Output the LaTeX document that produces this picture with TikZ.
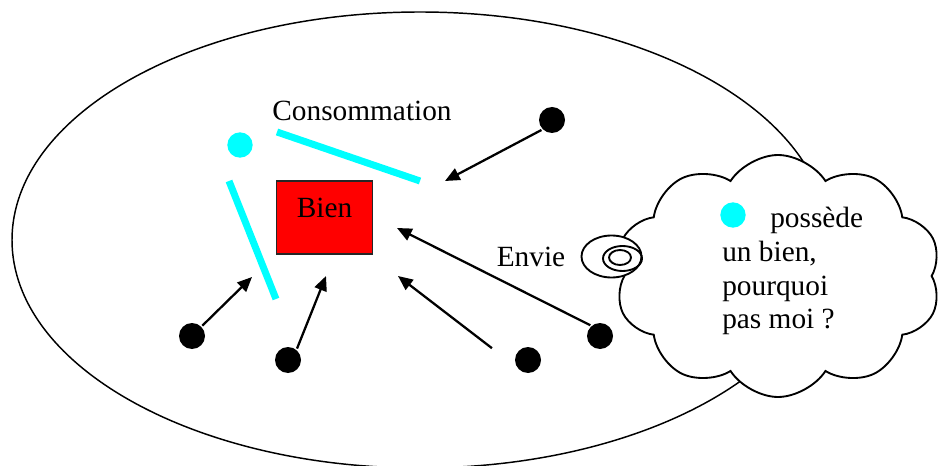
\documentclass[tikz,border=0pt]{standalone}
\usepackage{fontspec}
\setmainfont{Liberation Serif}
\usepackage{xcolor}
\usetikzlibrary{arrows.meta,positioning,shapes.symbols}
\definecolor{Conso_Cyan}{HTML}{00FFFF}
\definecolor{Bien_Red}{HTML}{FF0000}
\definecolor{Edge_Grey}{HTML}{262626}

\begin{document}
\begin{tikzpicture}[x=0.75pt, y=-0.75pt, >={Triangle[length=11pt,width=9.5pt]},
    txt/.style={font=\fontsize{22}{25.3}\selectfont},
    person/.style={circle, fill=black, inner sep=0pt, minimum size=19.5pt},
    owner/.style={circle, fill=Conso_Cyan, inner sep=0pt, minimum size=19pt},
    envy/.style={->, line width=1.7pt, shorten <=1pt},
    consoline/.style={line width=5.25pt, Conso_Cyan}]
    \useasboundingbox (0,0) rectangle (941,466);

    % Society
    \draw[line width=1.1pt] (420,240) ellipse [x radius=408, y radius=228];

    % The good
    \node[txt, draw=Edge_Grey, line width=1.2pt, fill=Bien_Red, inner sep=0pt,
          minimum width=72pt, text height=27.75pt, text depth=27pt, anchor=north]
          (bien) at (324.5,180) {Bien};

    % Owner and consumption
    \node[txt] (conso) at (362,111) {Consommation};
    \node[owner] (own) at (240,145) {};
    \draw[consoline] (277,132) -- (420,181);
    \draw[consoline] (229,181) -- (276,299);

    % Other people
    \node[person] (p1) at (552,120) {};
    \node[person] (p2) at (192,336) {};
    \node[person] (p3) at (288,360) {};
    \node[person] (p4) at (528,360) {};
    \node[person] (p5) at (600,336) {};

    % Envy arrows
    \coordinate (t1) at (445,181);
    \coordinate (t2) at (252,277);
    \coordinate (t3) at (326,276);
    \coordinate (s4) at (493,349);
    \coordinate (t4) at (398,276);
    \coordinate (t5) at (397,228);
    \draw[envy] (p1.225) -- (t1);
    \draw[envy] (p2.45) -- (t2);
    \draw[envy] (p3.50) -- (t3);
    \draw[envy] (s4) -- (t4);
    \draw[envy] (p5.130) -- (t5);

    % Thought
    \node[cloud, draw, fill=white, line width=1.4pt, cloud puffs=10, cloud puff arc=115,
          minimum width=244.5pt, minimum height=181.5pt] (thought) at (778,276) {};
    \node[txt] (envie) at (531,257) {Envie};
    \draw[line width=1.4pt, fill=white] (611.5,256.5) ellipse [x radius=30, y radius=21];
    \draw[line width=1.4pt] (622.5,258.5) ellipse [x radius=19.5, y radius=12.5];
    \draw[line width=1.4pt] (620,257.5) ellipse [x radius=11, y radius=7.5];
    \node[owner] (own2) at (733,215) {};
    \node[txt, align=left, anchor=north west, inner sep=0pt] (idea) at (722,207)
          {\hspace*{36pt}possède\\un bien,\\pourquoi\\pas moi ?};
\end{tikzpicture}
\end{document}
